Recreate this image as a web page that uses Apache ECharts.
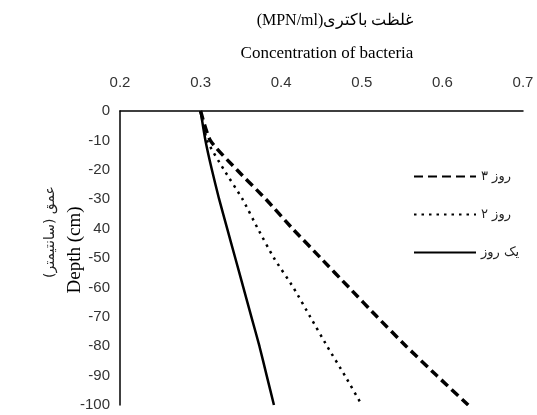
<!DOCTYPE html>
<html>
<head>
<meta charset="utf-8">
<script src="https://cdn.jsdelivr.net/npm/echarts@6/dist/echarts.min.js"></script>
<style>
  html, body { margin: 0; padding: 0; background: #fff; }
  #chart { width: 537px; height: 415px; }
</style>
</head>
<body>
<div id="chart"></div>
<script>
// depth (cm) for every reading
const depths = [0, -10, -20, -30, -40, -50, -60, -70, -80, -90, -100]
// bacteria concentration (MPN/ml) per series
const day3 = [0.300, 0.312, 0.345, 0.381, 0.414, 0.449, 0.484, 0.519, 0.555, 0.593, 0.632]
const day2 = [0.300, 0.308, 0.329, 0.352, 0.371, 0.391, 0.415, 0.436, 0.457, 0.479, 0.500]
const day1 = [0.300, 0.306, 0.314, 0.323, 0.333, 0.343, 0.353, 0.363, 0.373, 0.382, 0.391]
const seriesNames = ['۳ روز', '۲ روز', 'یک روز']
// tick labels as printed on the picture
const xTicks = ['0.2', '0.3', '0.4', '0.5', '0.6', '0.7']
const yTicks = ['0', '-10', '-20', '-30', '40', '-50', '-60', '-70', '-80', '-90', '-100']

const pairs = vals => vals.map((v, i) => [v, depths[i]])

const chart = echarts.init(document.getElementById('chart'))

const labelFont = {
  color: '#333',
  fontFamily: 'Liberation Sans',
  fontSize: 15
}

chart.setOption({
  animation: false,
  title: [
    {
      text: '(MPN/ml)غلظت باکتری',
      left: 330, top: 8, textAlign: 'center',
      textStyle: { fontFamily: 'Liberation Serif, DejaVu Serif', fontSize: 16, fontWeight: 'normal', color: '#000' }
    },
    {
      text: 'Concentration of bacteria',
      left: 322, top: 40, textAlign: 'center',
      textStyle: { fontFamily: 'Liberation Serif', fontSize: 17, fontWeight: 'normal', color: '#000' }
    }
  ],
  legend: {
    orient: 'vertical',
    left: 408,
    top: 165,
    itemWidth: 62,
    itemHeight: 12,
    itemGap: 25,
    data: seriesNames,
    itemStyle: { opacity: 0 },
    textStyle: { fontFamily: 'DejaVu Sans', fontSize: 13, color: '#222' }
  },
  grid: { left: 120, right: 14, top: 111, bottom: 10 },
  xAxis: {
    type: 'value',
    position: 'top',
    min: 0.2,
    max: 0.7,
    interval: 0.1,
    axisLine: { show: true, lineStyle: { color: '#000', width: 1.5 } },
    axisTick: { show: false },
    splitLine: { show: false },
    axisLabel: Object.assign({
      margin: 21,
      formatter: v => xTicks[Math.round((v - 0.2) * 10)]
    }, labelFont)
  },
  yAxis: {
    type: 'value',
    min: -100,
    max: 0,
    interval: 10,
    axisLine: { show: true, lineStyle: { color: '#000', width: 1.5 } },
    axisTick: { show: false },
    splitLine: { show: false },
    axisLabel: Object.assign({
      margin: 10,
      formatter: v => yTicks[Math.round(-v / 10)]
    }, labelFont)
  },
  graphic: [
    {
      type: 'text',
      x: 50, y: 232,
      rotation: Math.PI / 2,
      style: {
        text: '(سانتیمتر) عمق',
        fontFamily: 'DejaVu Sans',
        fontSize: 14,
        fill: '#222',
        align: 'center',
        verticalAlign: 'middle'
      }
    },
    {
      type: 'text',
      x: 75, y: 250,
      rotation: Math.PI / 2,
      style: {
        text: 'Depth (cm)',
        fontFamily: 'Liberation Serif',
        fontSize: 19,
        fill: '#000',
        align: 'center',
        verticalAlign: 'middle'
      }
    }
  ],
  series: [
    {
      name: seriesNames[0],
      type: 'line',
      symbol: 'none',
      smooth: 0.2,
      data: pairs(day3),
      lineStyle: { color: '#000', width: 3.5, type: [9, 5] },
      itemStyle: { color: '#000' }
    },
    {
      name: seriesNames[1],
      type: 'line',
      symbol: 'none',
      smooth: 0.2,
      data: pairs(day2),
      lineStyle: { color: '#000', width: 2.5, type: [2.5, 5] },
      itemStyle: { color: '#000' }
    },
    {
      name: seriesNames[2],
      type: 'line',
      symbol: 'none',
      smooth: 0.2,
      data: pairs(day1),
      lineStyle: { color: '#000', width: 2.5, type: 'solid' },
      itemStyle: { color: '#000' }
    }
  ]
})
</script>
</body>
</html>
